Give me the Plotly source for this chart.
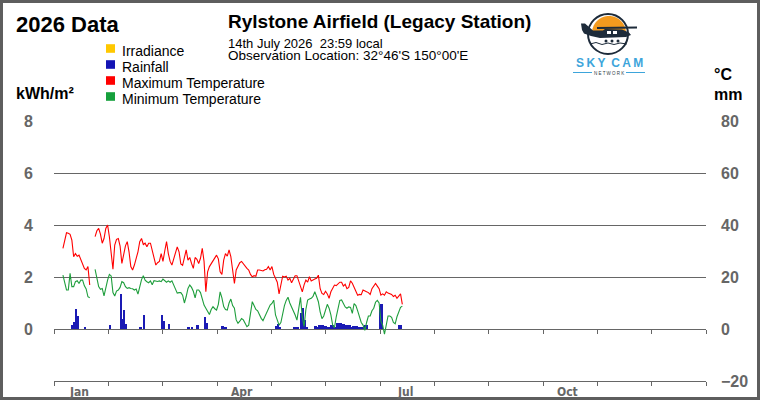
import math
import plotly.graph_objects as go

# ---------------- data ----------------
first_day = 5  # day-of-year of first observation
tmax = [
    31, 33.6, 37, 36.8, 36.4, 34.2, 27.8, 29, 28, 28.4,
    26.5, 24.6, 23.3, 22.7, 24, 16.9, None, None, 35.5, 37.8,
    38.7, 36.5, 33, 34.8, 38.7, 40, 35.5, 27.8, 23, 32.3,
    34.5, 34.8, 31.9, 25.2, 28.4, 32, 33.6, 29.7, 24, 22.7,
    24.6, 27.2, 29.7, 33.6, 34.8, 32.5, 33, 31.6, 33, 33,
    30.4, 28, 24.6, 25.5, 26, 29, 26, 30, 33.6, 29,
    26, 24.6, 27.2, 29.5, 31.6, 29.7, 25, 24.5, 28, 30.4,
    26.5, 27.5, 25.2, 23.3, 27.5, 26.8, 25.2, 27.2, 31, 26,
    14.3, 22, 24, 25.2, 25.9, 27.2, 28.4, 27, 22, 21,
    26.5, 29, 28, 30.4, 27.8, 22.7, 17.5, 22.7, 24.5, 25.5,
    26, 25, 24, 23.3, 22.7, 21, 20.1, 20.5, 20.3, 22.7,
    22.7, 22.6, 22.3, 22.8, 23, 24, 22.7, 24, 21, 19.5,
    18, 13.5, 17, 20.3, 20, 20.3, 18.8, 19.5, 17.8, 19.5,
    20.5, 20.5, 18.5, 16.5, 14.3, 17, 18.8, 18, 20.1, 18.5,
    19, 19.2, 19.5, 20.7, 15.5, 13.7, 13.3, 14.5, 13.5, 11.8,
    14.3, 15.6, 16.9, 16.7, 17.5, 18, 18, 16.5, 17.2, 15.5,
    16, 18.5, 17.6, 16, 14.5, 13, 13.3, 13.2, 15, 14.5,
    14.3, 14, 13.3, 15.5, 16.8, 17.5, 16.5, 15.5, 13, 13.5,
    13, 14.3, 13.8, 13.5, 13.3, 12.5, 13, 11.8, 12.5, 13.5, 9.5,
]
tmin = [
    20.7, 18.2, 15, 15, 21.4, 16.3, 16.3, 18.2, 18.6, 17.5,
    18.8, 18.8, 16.6, 15.4, 12.4, 12, None, None, 22.9, 19,
    16.3, 15.3, 15.6, 12.7, 16.5, 18.8, 21, 20.4, 14, 12.7,
    14.6, 15, 16, 18.2, 17.8, 16.3, 15.6, 15.9, 15.6, 15.5,
    15, 15.4, 13.4, 16.3, 19, 20.5, 18.8, 18.2, 17.8, 18.5,
    17, 18.6, 18.5, 18.3, 18.5, 18.2, 19.2, 18.5, 18, 18.5,
    18, 18.5, 17, 15, 13.8, 14, 14, 13, 10, 12.5,
    15.6, 16.9, 16, 14.5, 12, 15, 15, 14, 11, 9.2,
    8, 6.8, 5.6, 7.5, 8.6, 7.8, 7.3, 9.5, 14.3, 12,
    8.6, 7.5, 7.3, 10, 11.5, 9, 8, 3.5, 2.2, 3,
    4, 3.5, 2.2, 0.9, 1.5, 7, 10.5, 9, 7.5, 7,
    5.4, 4.1, 3.2, 4.7, 6.6, 8.3, 9.2, 9.8, 11.1, 5.4,
    3.4, 1.5, 2.5, 6.5, 9, 11, 12.2, 10, 8.6, 7.3,
    5.4, 3.4, 8, 12.2, 4.5, 1, 7.5, 11.1, 11.5, 11.8,
    12.5, 14.3, 12.5, 10.5, 6.6, 4, 5, 7.3, 9.5, 8,
    5.4, 1.5, 0.5, 4.7, 8, 11, 11.2, 10, 8.5, 8,
    8.5, 8.3, 6, 9.8, 9, 7, 4.5, 2.5, 1.5, -0.5,
    2.5, 5, 5, 7, 8, 10.3, 11, 10, 3, 1.5,
    -2, 1.5, 5, 5, 4.5, 2.5, 2, 4.7, 7, 8.3, 8.8,
]
days = list(range(first_day, first_day + len(tmax)))

rain_days = [10, 11, 12, 13, 17, 31, 37, 38, 39, 40, 48, 50, 60, 61, 64, 75, 77, 80,
             84, 85, 94, 95, 96, 124, 125, 126, 134, 135, 136, 138, 139, 140, 141,
             146, 147, 148, 149, 150, 151, 152, 153, 154, 155, 156, 157, 158, 159,
             160, 161, 162, 163, 164, 165, 166, 167, 168, 169, 170, 171, 172, 173,
             174, 175, 182, 183, 193, 194]
rain_mm = [1.5, 2.6, 7.7, 5.0, 0.6, 1.5, 13.5, 3.8, 7.3, 1.9, 0.6, 5.4, 5.4, 3.2, 1.9, 0.8, 0.8, 1.5,
           4.6, 2.3, 1.2, 0.8, 0.6, 1.2, 1.9, 0.9, 0.5, 0.6, 0.5, 6.0, 8.0, 3.5, 0.6,
           1.2, 0.6, 1.5, 1.5, 1.5, 1.2, 1.2, 0.9, 0.9, 1.5, 1.5, 0.6, 2.3, 2.3,
           2.3, 2.0, 2.0, 1.5, 1.5, 1.5, 0.9, 1.2, 1.2, 1.2, 0.9, 0.9, 0.9, 1.2,
           1.5, 1.5, 8.3, 9.6, 1.5, 1.5]

month_labels = ["Jan", "Apr", "Jul", "Oct"]
month_label_idx = [0, 3, 6, 9]
year_days = 365
left_ticks = [0, 2, 4, 6, 8]
right_ticks = [-20, 0, 20, 40, 60, 80]

legend_names = ["Irradiance", "Rainfall", "Maximum Temperature", "Minimum Temperature"]
legend_colors = ["#FFC800", "#1414B4", "#FF0000", "#16A03C"]

# ---------------- layout helpers ----------------
W, H = 760, 400
ML, MR, MT, MB = 54, 54, 121, 19
PW = W - ML - MR
PH = H - MT - MB
FONT = "Liberation Sans, Arial, Helvetica, sans-serif"
GRAY = "#666666"


def px(x):
    return (x - ML) / PW


def py(y):
    return (H - MB - y) / PH


def ann(text, x, y, size, color="#000000", bold=False, xanchor="left", yanchor="middle", family=FONT):
    return dict(text=text, x=px(x), y=py(y), xref="paper", yref="paper",
                xanchor=xanchor, yanchor=yanchor, showarrow=False, borderpad=0,
                font=dict(size=size, color=color, family=family,
                          weight="bold" if bold else "normal"))


month_edges = [k * year_days / 12 for k in range(13)]

fig = go.Figure()
# empty irradiance series on the left axis (no data shown in reference)
fig.add_trace(go.Scatter(x=[None], y=[None], yaxis="y", mode="lines",
                         line=dict(color=legend_colors[0]), hoverinfo="skip"))
fig.add_trace(go.Bar(x=rain_days, y=rain_mm, yaxis="y2", width=1, offset=0,
                     marker=dict(color="#1A1AB4", line=dict(width=0))))
fig.add_trace(go.Scatter(x=days, y=tmax, yaxis="y2", mode="lines",
                         line=dict(color="#FF0000", width=1.1), connectgaps=False))
fig.add_trace(go.Scatter(x=days, y=tmin, yaxis="y2", mode="lines",
                         line=dict(color="#1E9E3C", width=1.1), connectgaps=False))
# helper trace so the tick row on the 0 line gets drawn
fig.add_trace(go.Scatter(x=[None], y=[None], xaxis="x2", yaxis="y2", hoverinfo="skip"))

annotations = [
    ann("2026 Data", 15, 24.5, 22, bold=True),
    ann("kWh/m²", 15, 94, 16, bold=True),
    ann("Rylstone Airfield (Legacy Station)", 227, 21, 19, bold=True),
    ann("14th July 2026\u00a0 23:59 local", 227, 43.5, 13),
    ann("Observation Location: 32°46'S 150°00'E", 227, 55, 13.5),
    ann("°C", 713, 74.3, 16, bold=True),
    ann("mm", 713, 94.3, 16, bold=True),
]
shapes = []

legend_y = [50.5, 66.5, 82.5, 98.5]
for name, col, yy in zip(legend_names, legend_colors, legend_y):
    annotations.append(ann(name, 120.5, yy, 14))
    shapes.append(dict(type="rect", xref="paper", yref="paper",
                       x0=px(106), x1=px(115), y0=py(yy - 2 + 4.3), y1=py(yy - 2 - 4.3),
                       fillcolor=col, line=dict(width=0)))

for lab, k in zip(month_labels, month_label_idx):
    annotations.append(dict(text=lab, x=month_edges[k] + 0.46 * year_days / 12, y=py(391.7),
                            xref="x", yref="paper", xanchor="center", yanchor="middle",
                            showarrow=False, borderpad=0,
                            font=dict(size=12, color=GRAY, weight="bold",
                                      family="Liberation Sans Narrow, DejaVu Sans Condensed, Arial Narrow, sans-serif")))

# outer border
shapes.append(dict(type="rect", xref="paper", yref="paper",
                   x0=px(1.5), x1=px(W - 1.5), y0=py(1.5), y1=py(H - 1.5),
                   line=dict(color="#5E5E5E", width=3), fillcolor="rgba(0,0,0,0)"))

# ---------------- logo (Sky Cam Network) ----------------
NAVY = "#1D2B3A"
LBLUE = "#3DA5DB"
cx, cy = 608, 34
sun = []
for i in range(0, 37):
    a = math.pi * i / 36
    sun.append((cx + 1 + 17 * math.cos(a), cy - 1 - 17 * math.sin(a)))


def path_from(pts):
    return "M " + " L ".join(f"{px(x):.5f},{py(y):.5f}" for x, y in pts) + " Z"


shapes.append(dict(type="path", xref="paper", yref="paper", path=path_from(sun),
                   fillcolor="#F39A1E", line=dict(width=0)))
shapes.append(dict(type="circle", xref="paper", yref="paper",
                   x0=px(cx - 20), x1=px(cx + 20), y0=py(cy + 20), y1=py(cy - 20),
                   line=dict(color=NAVY, width=2)))
plane = [(581, 23.5), (585, 23.5), (593, 30.5), (603, 30.5), (605, 29), (622, 29.5),
         (629, 32.5), (631, 35), (626, 37), (600, 38), (591, 36), (584, 33.5), (582, 30)]
shapes.append(dict(type="path", xref="paper", yref="paper", path=path_from(plane),
                   fillcolor=NAVY, line=dict(width=0)))
wing = [(597, 27), (637, 26.5), (637, 28.5), (597, 29)]
shapes.append(dict(type="path", xref="paper", yref="paper", path=path_from(wing),
                   fillcolor=NAVY, line=dict(width=0)))
for wx in (607, 613):
    shapes.append(dict(type="rect", xref="paper", yref="paper",
                       x0=px(wx), x1=px(wx + 4), y0=py(34), y1=py(31),
                       fillcolor="white", line=dict(width=0)))
for gx in (606, 612, 618):
    shapes.append(dict(type="circle", xref="paper", yref="paper",
                       x0=px(gx - 1.5), x1=px(gx + 1.5), y0=py(42.5), y1=py(39.5),
                       fillcolor=NAVY, line=dict(width=0)))
wave = [(590, 44), (596, 42.5), (602, 44.5), (608, 43), (614, 44.5), (620, 43), (627, 44)]
shapes.append(dict(type="path", xref="paper", yref="paper",
                   path="M " + " L ".join(f"{px(x):.5f},{py(y):.5f}" for x, y in wave),
                   line=dict(color=NAVY, width=1)))
annotations.append(ann("S\u2009K\u2009Y\u2009 C\u2009A\u2009M", 609, 63.3, 12, color=LBLUE,
                       bold=True, xanchor="center"))
annotations.append(ann("N E T W O R K", 609, 73, 4.5, color="#2D3A45", xanchor="center"))
for x0, x1 in ((573, 592), (626, 645)):
    shapes.append(dict(type="line", xref="paper", yref="paper",
                       x0=px(x0), x1=px(x1), y0=py(72.5), y1=py(72.5),
                       line=dict(color=LBLUE, width=1)))

fig.update_layout(
    width=W, height=H,
    margin=dict(l=ML, r=MR, t=MT, b=MB, autoexpand=False),
    paper_bgcolor="white", plot_bgcolor="white",
    showlegend=False, bargap=0,
    xaxis=dict(range=[0, year_days], tickvals=month_edges, showticklabels=False,
               ticks="outside", ticklen=4, tickcolor=GRAY, tickwidth=1,
               showline=True, linecolor=GRAY, linewidth=1, showgrid=False,
               zeroline=False, fixedrange=True),
    xaxis2=dict(range=[0, year_days], overlaying="x", anchor="free", position=0.2,
                tickvals=month_edges, showticklabels=False, ticks="outside", ticklen=4,
                tickcolor=GRAY, tickwidth=1, showline=False, showgrid=False,
                zeroline=False, fixedrange=True),
    yaxis=dict(range=[-2, 8], tickvals=left_ticks, showgrid=False, zeroline=False,
               ticks="", ticklabelstandoff=20, fixedrange=True,
               tickfont=dict(size=16, color=GRAY, family=FONT, weight="bold")),
    yaxis2=dict(range=[-20, 80], tickvals=right_ticks, overlaying="y", side="right",
                showgrid=True, gridcolor=GRAY, gridwidth=1, zeroline=False,
                ticks="", ticklabelstandoff=14, fixedrange=True,
                tickfont=dict(size=16, color=GRAY, family=FONT, weight="bold")),
    annotations=annotations,
    shapes=shapes,
)

fig.write_html("out.html")
